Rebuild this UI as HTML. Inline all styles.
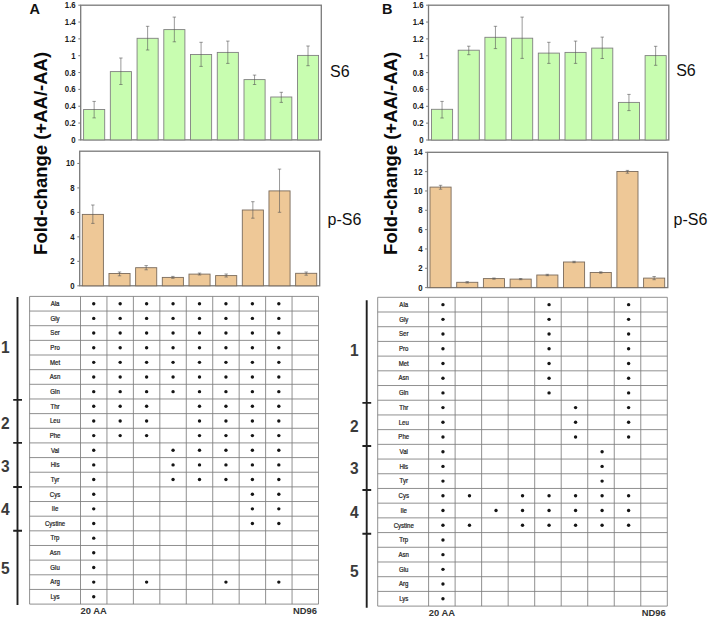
<!DOCTYPE html>
<html><head><meta charset="utf-8"><style>
html,body{margin:0;padding:0;background:#fff;width:708px;height:618px;overflow:hidden;position:relative}
</style></head><body>
<svg width="708" height="618" viewBox="0 0 708 618" style="position:absolute;left:0;top:0" font-family='"Liberation Sans", sans-serif'>
<rect width="708" height="618" fill="#fff"/>
<rect x="80.7" y="5.2" width="240.6" height="134.7" fill="none" stroke="#7a7a7a" stroke-width="1.3"/>
<rect x="83.6" y="109.5" width="21.1" height="30.4" fill="#c8fdb0" stroke="#808080" stroke-width="0.9"/>
<path d="M94.15 101.4V117.9M92.45 101.4h3.4M92.45 117.9h3.4" stroke="#555555" stroke-width="0.6" fill="none"/>
<rect x="110.33" y="71.6" width="21.1" height="68.3" fill="#c8fdb0" stroke="#808080" stroke-width="0.9"/>
<path d="M120.88 58V84.5M119.18 58h3.4M119.18 84.5h3.4" stroke="#555555" stroke-width="0.6" fill="none"/>
<rect x="137.07" y="38.3" width="21.1" height="101.6" fill="#c8fdb0" stroke="#808080" stroke-width="0.9"/>
<path d="M147.62 26.3V50M145.92 26.3h3.4M145.92 50h3.4" stroke="#555555" stroke-width="0.6" fill="none"/>
<rect x="163.8" y="29.6" width="21.1" height="110.3" fill="#c8fdb0" stroke="#808080" stroke-width="0.9"/>
<path d="M174.35 17.1V41.8M172.65 17.1h3.4M172.65 41.8h3.4" stroke="#555555" stroke-width="0.6" fill="none"/>
<rect x="190.53" y="54.5" width="21.1" height="85.4" fill="#c8fdb0" stroke="#808080" stroke-width="0.9"/>
<path d="M201.08 42.3V66.4M199.38 42.3h3.4M199.38 66.4h3.4" stroke="#555555" stroke-width="0.6" fill="none"/>
<rect x="217.27" y="52.4" width="21.1" height="87.5" fill="#c8fdb0" stroke="#808080" stroke-width="0.9"/>
<path d="M227.82 41.1V63.4M226.12 41.1h3.4M226.12 63.4h3.4" stroke="#555555" stroke-width="0.6" fill="none"/>
<rect x="244" y="79.6" width="21.1" height="60.3" fill="#c8fdb0" stroke="#808080" stroke-width="0.9"/>
<path d="M254.55 75.1V84.5M252.85 75.1h3.4M252.85 84.5h3.4" stroke="#555555" stroke-width="0.6" fill="none"/>
<rect x="270.73" y="97" width="21.1" height="42.9" fill="#c8fdb0" stroke="#808080" stroke-width="0.9"/>
<path d="M281.28 92.3V102.4M279.58 92.3h3.4M279.58 102.4h3.4" stroke="#555555" stroke-width="0.6" fill="none"/>
<rect x="297.47" y="55.4" width="21.1" height="84.5" fill="#c8fdb0" stroke="#808080" stroke-width="0.9"/>
<path d="M308.02 46V65.7M306.32 46h3.4M306.32 65.7h3.4" stroke="#555555" stroke-width="0.6" fill="none"/>
<path d="M78.3 139.9H80.7" stroke="#7a7a7a" stroke-width="1"/>
<text transform="translate(75.7 142.9) scale(0.93 1.12)" text-anchor="end" font-size="8.4" font-weight="bold" fill="#1a1a1a">0</text>
<path d="M78.3 123.06H80.7" stroke="#7a7a7a" stroke-width="1"/>
<text transform="translate(75.7 126.06) scale(0.93 1.12)" text-anchor="end" font-size="8.4" font-weight="bold" fill="#1a1a1a">0.2</text>
<path d="M78.3 106.22H80.7" stroke="#7a7a7a" stroke-width="1"/>
<text transform="translate(75.7 109.22) scale(0.93 1.12)" text-anchor="end" font-size="8.4" font-weight="bold" fill="#1a1a1a">0.4</text>
<path d="M78.3 89.39H80.7" stroke="#7a7a7a" stroke-width="1"/>
<text transform="translate(75.7 92.39) scale(0.93 1.12)" text-anchor="end" font-size="8.4" font-weight="bold" fill="#1a1a1a">0.6</text>
<path d="M78.3 72.55H80.7" stroke="#7a7a7a" stroke-width="1"/>
<text transform="translate(75.7 75.55) scale(0.93 1.12)" text-anchor="end" font-size="8.4" font-weight="bold" fill="#1a1a1a">0.8</text>
<path d="M78.3 55.71H80.7" stroke="#7a7a7a" stroke-width="1"/>
<text transform="translate(75.7 58.71) scale(0.93 1.12)" text-anchor="end" font-size="8.4" font-weight="bold" fill="#1a1a1a">1</text>
<path d="M78.3 38.88H80.7" stroke="#7a7a7a" stroke-width="1"/>
<text transform="translate(75.7 41.88) scale(0.93 1.12)" text-anchor="end" font-size="8.4" font-weight="bold" fill="#1a1a1a">1.2</text>
<path d="M78.3 22.04H80.7" stroke="#7a7a7a" stroke-width="1"/>
<text transform="translate(75.7 25.04) scale(0.93 1.12)" text-anchor="end" font-size="8.4" font-weight="bold" fill="#1a1a1a">1.4</text>
<path d="M78.3 5.2H80.7" stroke="#7a7a7a" stroke-width="1"/>
<text transform="translate(75.7 8.2) scale(0.93 1.12)" text-anchor="end" font-size="8.4" font-weight="bold" fill="#1a1a1a">1.6</text>
<rect x="79.7" y="151.2" width="240" height="134.6" fill="none" stroke="#7a7a7a" stroke-width="1.3"/>
<rect x="82.3" y="214.4" width="21.1" height="71.4" fill="#eec897" stroke="#7a6b5c" stroke-width="0.9"/>
<path d="M92.85 205V223.4M91.15 205h3.4M91.15 223.4h3.4" stroke="#555555" stroke-width="0.6" fill="none"/>
<rect x="108.97" y="273.5" width="21.1" height="12.3" fill="#eec897" stroke="#7a6b5c" stroke-width="0.9"/>
<path d="M119.52 272V275.8M117.82 272h3.4M117.82 275.8h3.4" stroke="#555555" stroke-width="0.6" fill="none"/>
<rect x="135.63" y="267.7" width="21.1" height="18.1" fill="#eec897" stroke="#7a6b5c" stroke-width="0.9"/>
<path d="M146.18 265.6V269.8M144.48 265.6h3.4M144.48 269.8h3.4" stroke="#555555" stroke-width="0.6" fill="none"/>
<rect x="162.3" y="277.4" width="21.1" height="8.4" fill="#eec897" stroke="#7a6b5c" stroke-width="0.9"/>
<path d="M172.85 276.4V278.3M171.15 276.4h3.4M171.15 278.3h3.4" stroke="#555555" stroke-width="0.6" fill="none"/>
<rect x="188.97" y="274.1" width="21.1" height="11.7" fill="#eec897" stroke="#7a6b5c" stroke-width="0.9"/>
<path d="M199.52 273.1V275M197.82 273.1h3.4M197.82 275h3.4" stroke="#555555" stroke-width="0.6" fill="none"/>
<rect x="215.63" y="275.6" width="21.1" height="10.2" fill="#eec897" stroke="#7a6b5c" stroke-width="0.9"/>
<path d="M226.18 274V277M224.48 274h3.4M224.48 277h3.4" stroke="#555555" stroke-width="0.6" fill="none"/>
<rect x="242.3" y="210" width="21.1" height="75.8" fill="#eec897" stroke="#7a6b5c" stroke-width="0.9"/>
<path d="M252.85 201.7V218.2M251.15 201.7h3.4M251.15 218.2h3.4" stroke="#555555" stroke-width="0.6" fill="none"/>
<rect x="268.97" y="190.9" width="21.1" height="94.9" fill="#eec897" stroke="#7a6b5c" stroke-width="0.9"/>
<path d="M279.52 169.1V212.3M277.82 169.1h3.4M277.82 212.3h3.4" stroke="#555555" stroke-width="0.6" fill="none"/>
<rect x="295.63" y="273.3" width="21.1" height="12.5" fill="#eec897" stroke="#7a6b5c" stroke-width="0.9"/>
<path d="M306.18 272V275.2M304.48 272h3.4M304.48 275.2h3.4" stroke="#555555" stroke-width="0.6" fill="none"/>
<path d="M77.3 285.8H79.7" stroke="#7a7a7a" stroke-width="1"/>
<text transform="translate(74.7 288.8) scale(0.93 1.12)" text-anchor="end" font-size="8.4" font-weight="bold" fill="#1a1a1a">0</text>
<path d="M77.3 261.33H79.7" stroke="#7a7a7a" stroke-width="1"/>
<text transform="translate(74.7 264.33) scale(0.93 1.12)" text-anchor="end" font-size="8.4" font-weight="bold" fill="#1a1a1a">2</text>
<path d="M77.3 236.85H79.7" stroke="#7a7a7a" stroke-width="1"/>
<text transform="translate(74.7 239.85) scale(0.93 1.12)" text-anchor="end" font-size="8.4" font-weight="bold" fill="#1a1a1a">4</text>
<path d="M77.3 212.38H79.7" stroke="#7a7a7a" stroke-width="1"/>
<text transform="translate(74.7 215.38) scale(0.93 1.12)" text-anchor="end" font-size="8.4" font-weight="bold" fill="#1a1a1a">6</text>
<path d="M77.3 187.91H79.7" stroke="#7a7a7a" stroke-width="1"/>
<text transform="translate(74.7 190.91) scale(0.93 1.12)" text-anchor="end" font-size="8.4" font-weight="bold" fill="#1a1a1a">8</text>
<path d="M77.3 163.44H79.7" stroke="#7a7a7a" stroke-width="1"/>
<text transform="translate(74.7 166.44) scale(0.93 1.12)" text-anchor="end" font-size="8.4" font-weight="bold" fill="#1a1a1a">10</text>
<rect x="428.5" y="5.2" width="240.3" height="134.8" fill="none" stroke="#7a7a7a" stroke-width="1.3"/>
<rect x="431.5" y="109.3" width="21.1" height="30.7" fill="#c8fdb0" stroke="#808080" stroke-width="0.9"/>
<path d="M442.05 101.4V118M440.35 101.4h3.4M440.35 118h3.4" stroke="#555555" stroke-width="0.6" fill="none"/>
<rect x="458.2" y="50.2" width="21.1" height="89.8" fill="#c8fdb0" stroke="#808080" stroke-width="0.9"/>
<path d="M468.75 46.2V54.7M467.05 46.2h3.4M467.05 54.7h3.4" stroke="#555555" stroke-width="0.6" fill="none"/>
<rect x="484.9" y="37.3" width="21.1" height="102.7" fill="#c8fdb0" stroke="#808080" stroke-width="0.9"/>
<path d="M495.45 26.3V48.6M493.75 26.3h3.4M493.75 48.6h3.4" stroke="#555555" stroke-width="0.6" fill="none"/>
<rect x="511.6" y="38.2" width="21.1" height="101.8" fill="#c8fdb0" stroke="#808080" stroke-width="0.9"/>
<path d="M522.15 17.1V58.4M520.45 17.1h3.4M520.45 58.4h3.4" stroke="#555555" stroke-width="0.6" fill="none"/>
<rect x="538.3" y="53.1" width="21.1" height="86.9" fill="#c8fdb0" stroke="#808080" stroke-width="0.9"/>
<path d="M548.85 42.3V63.4M547.15 42.3h3.4M547.15 63.4h3.4" stroke="#555555" stroke-width="0.6" fill="none"/>
<rect x="565" y="52.4" width="21.1" height="87.6" fill="#c8fdb0" stroke="#808080" stroke-width="0.9"/>
<path d="M575.55 41.1V63.4M573.85 41.1h3.4M573.85 63.4h3.4" stroke="#555555" stroke-width="0.6" fill="none"/>
<rect x="591.7" y="48.1" width="21.1" height="91.9" fill="#c8fdb0" stroke="#808080" stroke-width="0.9"/>
<path d="M602.25 37.1V58.5M600.55 37.1h3.4M600.55 58.5h3.4" stroke="#555555" stroke-width="0.6" fill="none"/>
<rect x="618.4" y="102.4" width="21.1" height="37.6" fill="#c8fdb0" stroke="#808080" stroke-width="0.9"/>
<path d="M628.95 94.4V110.6M627.25 94.4h3.4M627.25 110.6h3.4" stroke="#555555" stroke-width="0.6" fill="none"/>
<rect x="645.1" y="55.6" width="21.1" height="84.4" fill="#c8fdb0" stroke="#808080" stroke-width="0.9"/>
<path d="M655.65 46.3V65.3M653.95 46.3h3.4M653.95 65.3h3.4" stroke="#555555" stroke-width="0.6" fill="none"/>
<path d="M426.1 140H428.5" stroke="#7a7a7a" stroke-width="1"/>
<text transform="translate(423.5 143) scale(0.93 1.12)" text-anchor="end" font-size="8.4" font-weight="bold" fill="#1a1a1a">0</text>
<path d="M426.1 123.15H428.5" stroke="#7a7a7a" stroke-width="1"/>
<text transform="translate(423.5 126.15) scale(0.93 1.12)" text-anchor="end" font-size="8.4" font-weight="bold" fill="#1a1a1a">0.2</text>
<path d="M426.1 106.3H428.5" stroke="#7a7a7a" stroke-width="1"/>
<text transform="translate(423.5 109.3) scale(0.93 1.12)" text-anchor="end" font-size="8.4" font-weight="bold" fill="#1a1a1a">0.4</text>
<path d="M426.1 89.45H428.5" stroke="#7a7a7a" stroke-width="1"/>
<text transform="translate(423.5 92.45) scale(0.93 1.12)" text-anchor="end" font-size="8.4" font-weight="bold" fill="#1a1a1a">0.6</text>
<path d="M426.1 72.6H428.5" stroke="#7a7a7a" stroke-width="1"/>
<text transform="translate(423.5 75.6) scale(0.93 1.12)" text-anchor="end" font-size="8.4" font-weight="bold" fill="#1a1a1a">0.8</text>
<path d="M426.1 55.75H428.5" stroke="#7a7a7a" stroke-width="1"/>
<text transform="translate(423.5 58.75) scale(0.93 1.12)" text-anchor="end" font-size="8.4" font-weight="bold" fill="#1a1a1a">1</text>
<path d="M426.1 38.9H428.5" stroke="#7a7a7a" stroke-width="1"/>
<text transform="translate(423.5 41.9) scale(0.93 1.12)" text-anchor="end" font-size="8.4" font-weight="bold" fill="#1a1a1a">1.2</text>
<path d="M426.1 22.05H428.5" stroke="#7a7a7a" stroke-width="1"/>
<text transform="translate(423.5 25.05) scale(0.93 1.12)" text-anchor="end" font-size="8.4" font-weight="bold" fill="#1a1a1a">1.4</text>
<path d="M426.1 5.2H428.5" stroke="#7a7a7a" stroke-width="1"/>
<text transform="translate(423.5 8.2) scale(0.93 1.12)" text-anchor="end" font-size="8.4" font-weight="bold" fill="#1a1a1a">1.6</text>
<rect x="427.5" y="152.3" width="240.3" height="135.3" fill="none" stroke="#7a7a7a" stroke-width="1.3"/>
<rect x="430" y="187.1" width="21.1" height="100.5" fill="#eec897" stroke="#7a6b5c" stroke-width="0.9"/>
<path d="M440.55 185.3V189.2M438.85 185.3h3.4M438.85 189.2h3.4" stroke="#555555" stroke-width="0.6" fill="none"/>
<rect x="456.7" y="282.3" width="21.1" height="5.3" fill="#eec897" stroke="#7a6b5c" stroke-width="0.9"/>
<path d="M467.25 281.6V283M465.55 281.6h3.4M465.55 283h3.4" stroke="#555555" stroke-width="0.6" fill="none"/>
<rect x="483.4" y="278.6" width="21.1" height="9" fill="#eec897" stroke="#7a6b5c" stroke-width="0.9"/>
<path d="M493.95 278V279.2M492.25 278h3.4M492.25 279.2h3.4" stroke="#555555" stroke-width="0.6" fill="none"/>
<rect x="510.1" y="279.1" width="21.1" height="8.5" fill="#eec897" stroke="#7a6b5c" stroke-width="0.9"/>
<path d="M520.65 278.5V279.7M518.95 278.5h3.4M518.95 279.7h3.4" stroke="#555555" stroke-width="0.6" fill="none"/>
<rect x="536.8" y="275" width="21.1" height="12.6" fill="#eec897" stroke="#7a6b5c" stroke-width="0.9"/>
<path d="M547.35 274.3V275.7M545.65 274.3h3.4M545.65 275.7h3.4" stroke="#555555" stroke-width="0.6" fill="none"/>
<rect x="563.5" y="262" width="21.1" height="25.6" fill="#eec897" stroke="#7a6b5c" stroke-width="0.9"/>
<path d="M574.05 261.3V262.7M572.35 261.3h3.4M572.35 262.7h3.4" stroke="#555555" stroke-width="0.6" fill="none"/>
<rect x="590.2" y="272.5" width="21.1" height="15.1" fill="#eec897" stroke="#7a6b5c" stroke-width="0.9"/>
<path d="M600.75 271.8V273.2M599.05 271.8h3.4M599.05 273.2h3.4" stroke="#555555" stroke-width="0.6" fill="none"/>
<rect x="616.9" y="171.5" width="21.1" height="116.1" fill="#eec897" stroke="#7a6b5c" stroke-width="0.9"/>
<path d="M627.45 170.4V173.2M625.75 170.4h3.4M625.75 173.2h3.4" stroke="#555555" stroke-width="0.6" fill="none"/>
<rect x="643.6" y="278.1" width="21.1" height="9.5" fill="#eec897" stroke="#7a6b5c" stroke-width="0.9"/>
<path d="M654.15 276.5V279.7M652.45 276.5h3.4M652.45 279.7h3.4" stroke="#555555" stroke-width="0.6" fill="none"/>
<path d="M425.1 287.6H427.5" stroke="#7a7a7a" stroke-width="1"/>
<text transform="translate(422.5 290.6) scale(0.93 1.12)" text-anchor="end" font-size="8.4" font-weight="bold" fill="#1a1a1a">0</text>
<path d="M425.1 268.27H427.5" stroke="#7a7a7a" stroke-width="1"/>
<text transform="translate(422.5 271.27) scale(0.93 1.12)" text-anchor="end" font-size="8.4" font-weight="bold" fill="#1a1a1a">2</text>
<path d="M425.1 248.94H427.5" stroke="#7a7a7a" stroke-width="1"/>
<text transform="translate(422.5 251.94) scale(0.93 1.12)" text-anchor="end" font-size="8.4" font-weight="bold" fill="#1a1a1a">4</text>
<path d="M425.1 229.61H427.5" stroke="#7a7a7a" stroke-width="1"/>
<text transform="translate(422.5 232.61) scale(0.93 1.12)" text-anchor="end" font-size="8.4" font-weight="bold" fill="#1a1a1a">6</text>
<path d="M425.1 210.29H427.5" stroke="#7a7a7a" stroke-width="1"/>
<text transform="translate(422.5 213.29) scale(0.93 1.12)" text-anchor="end" font-size="8.4" font-weight="bold" fill="#1a1a1a">8</text>
<path d="M425.1 190.96H427.5" stroke="#7a7a7a" stroke-width="1"/>
<text transform="translate(422.5 193.96) scale(0.93 1.12)" text-anchor="end" font-size="8.4" font-weight="bold" fill="#1a1a1a">10</text>
<path d="M425.1 171.63H427.5" stroke="#7a7a7a" stroke-width="1"/>
<text transform="translate(422.5 174.63) scale(0.93 1.12)" text-anchor="end" font-size="8.4" font-weight="bold" fill="#1a1a1a">12</text>
<path d="M425.1 152.3H427.5" stroke="#7a7a7a" stroke-width="1"/>
<text transform="translate(422.5 155.3) scale(0.93 1.12)" text-anchor="end" font-size="8.4" font-weight="bold" fill="#1a1a1a">14</text>
<text x="330" y="76.5" font-size="16" fill="#111">S6</text>
<text x="327.6" y="224.7" font-size="16" fill="#111">p-S6</text>
<text x="676.2" y="76.2" font-size="16" fill="#111">S6</text>
<text x="673.6" y="224.7" font-size="16" fill="#111">p-S6</text>
<text transform="translate(29.6 13.7) scale(1 1.06)" font-size="14.5" font-weight="bold" fill="#111">A</text>
<text transform="translate(382 13.7) scale(1 1.06)" font-size="14.5" font-weight="bold" fill="#111">B</text>
<text transform="translate(46.7 254.9) rotate(-90)" font-size="18.5" font-weight="bold" fill="#0a0a0a">Fold-change (+AA/-AA)</text>
<text transform="translate(397 254.9) rotate(-90)" font-size="18.5" font-weight="bold" fill="#0a0a0a">Fold-change (+AA/-AA)</text>
<path d="M29.6 296.4H318.5M29.6 311.05H318.5M29.6 325.7H318.5M29.6 340.36H318.5M29.6 355.01H318.5M29.6 369.66H318.5M29.6 384.31H318.5M29.6 398.97H318.5M29.6 413.62H318.5M29.6 428.27H318.5M29.6 442.92H318.5M29.6 457.58H318.5M29.6 472.23H318.5M29.6 486.88H318.5M29.6 501.53H318.5M29.6 516.19H318.5M29.6 530.84H318.5M29.6 545.49H318.5M29.6 560.14H318.5M29.6 574.8H318.5M29.6 589.45H318.5M29.6 604.1H318.5M29.6 296.4V604.1M80.5 296.4V604.1M106.94 296.4V604.1M133.39 296.4V604.1M159.83 296.4V604.1M186.28 296.4V604.1M212.72 296.4V604.1M239.17 296.4V604.1M265.61 296.4V604.1M292.06 296.4V604.1M318.5 296.4V604.1" stroke="#7c7c7c" stroke-width="0.85" fill="none"/>
<text transform="translate(55.05 306.03) scale(0.92 1)" text-anchor="middle" font-size="6.6" fill="#1e1e1e" stroke="#1e1e1e" stroke-width="0.22">Ala</text>
<circle cx="93.72" cy="303.73" r="1.7" fill="#151515"/>
<circle cx="120.17" cy="303.73" r="1.7" fill="#151515"/>
<circle cx="146.61" cy="303.73" r="1.7" fill="#151515"/>
<circle cx="173.06" cy="303.73" r="1.7" fill="#151515"/>
<circle cx="199.5" cy="303.73" r="1.7" fill="#151515"/>
<circle cx="225.94" cy="303.73" r="1.7" fill="#151515"/>
<circle cx="252.39" cy="303.73" r="1.7" fill="#151515"/>
<circle cx="278.83" cy="303.73" r="1.7" fill="#151515"/>
<text transform="translate(55.05 320.68) scale(0.92 1)" text-anchor="middle" font-size="6.6" fill="#1e1e1e" stroke="#1e1e1e" stroke-width="0.22">Gly</text>
<circle cx="93.72" cy="318.38" r="1.7" fill="#151515"/>
<circle cx="120.17" cy="318.38" r="1.7" fill="#151515"/>
<circle cx="146.61" cy="318.38" r="1.7" fill="#151515"/>
<circle cx="173.06" cy="318.38" r="1.7" fill="#151515"/>
<circle cx="199.5" cy="318.38" r="1.7" fill="#151515"/>
<circle cx="225.94" cy="318.38" r="1.7" fill="#151515"/>
<circle cx="252.39" cy="318.38" r="1.7" fill="#151515"/>
<circle cx="278.83" cy="318.38" r="1.7" fill="#151515"/>
<text transform="translate(55.05 335.33) scale(0.92 1)" text-anchor="middle" font-size="6.6" fill="#1e1e1e" stroke="#1e1e1e" stroke-width="0.22">Ser</text>
<circle cx="93.72" cy="333.03" r="1.7" fill="#151515"/>
<circle cx="120.17" cy="333.03" r="1.7" fill="#151515"/>
<circle cx="146.61" cy="333.03" r="1.7" fill="#151515"/>
<circle cx="173.06" cy="333.03" r="1.7" fill="#151515"/>
<circle cx="199.5" cy="333.03" r="1.7" fill="#151515"/>
<circle cx="225.94" cy="333.03" r="1.7" fill="#151515"/>
<circle cx="252.39" cy="333.03" r="1.7" fill="#151515"/>
<circle cx="278.83" cy="333.03" r="1.7" fill="#151515"/>
<text transform="translate(55.05 349.98) scale(0.92 1)" text-anchor="middle" font-size="6.6" fill="#1e1e1e" stroke="#1e1e1e" stroke-width="0.22">Pro</text>
<circle cx="93.72" cy="347.68" r="1.7" fill="#151515"/>
<circle cx="120.17" cy="347.68" r="1.7" fill="#151515"/>
<circle cx="146.61" cy="347.68" r="1.7" fill="#151515"/>
<circle cx="173.06" cy="347.68" r="1.7" fill="#151515"/>
<circle cx="199.5" cy="347.68" r="1.7" fill="#151515"/>
<circle cx="225.94" cy="347.68" r="1.7" fill="#151515"/>
<circle cx="252.39" cy="347.68" r="1.7" fill="#151515"/>
<circle cx="278.83" cy="347.68" r="1.7" fill="#151515"/>
<text transform="translate(55.05 364.64) scale(0.92 1)" text-anchor="middle" font-size="6.6" fill="#1e1e1e" stroke="#1e1e1e" stroke-width="0.22">Met</text>
<circle cx="93.72" cy="362.34" r="1.7" fill="#151515"/>
<circle cx="120.17" cy="362.34" r="1.7" fill="#151515"/>
<circle cx="146.61" cy="362.34" r="1.7" fill="#151515"/>
<circle cx="173.06" cy="362.34" r="1.7" fill="#151515"/>
<circle cx="199.5" cy="362.34" r="1.7" fill="#151515"/>
<circle cx="225.94" cy="362.34" r="1.7" fill="#151515"/>
<circle cx="252.39" cy="362.34" r="1.7" fill="#151515"/>
<circle cx="278.83" cy="362.34" r="1.7" fill="#151515"/>
<text transform="translate(55.05 379.29) scale(0.92 1)" text-anchor="middle" font-size="6.6" fill="#1e1e1e" stroke="#1e1e1e" stroke-width="0.22">Asn</text>
<circle cx="93.72" cy="376.99" r="1.7" fill="#151515"/>
<circle cx="120.17" cy="376.99" r="1.7" fill="#151515"/>
<circle cx="146.61" cy="376.99" r="1.7" fill="#151515"/>
<circle cx="173.06" cy="376.99" r="1.7" fill="#151515"/>
<circle cx="199.5" cy="376.99" r="1.7" fill="#151515"/>
<circle cx="225.94" cy="376.99" r="1.7" fill="#151515"/>
<circle cx="252.39" cy="376.99" r="1.7" fill="#151515"/>
<circle cx="278.83" cy="376.99" r="1.7" fill="#151515"/>
<text transform="translate(55.05 393.94) scale(0.92 1)" text-anchor="middle" font-size="6.6" fill="#1e1e1e" stroke="#1e1e1e" stroke-width="0.22">Gln</text>
<circle cx="93.72" cy="391.64" r="1.7" fill="#151515"/>
<circle cx="120.17" cy="391.64" r="1.7" fill="#151515"/>
<circle cx="146.61" cy="391.64" r="1.7" fill="#151515"/>
<circle cx="173.06" cy="391.64" r="1.7" fill="#151515"/>
<circle cx="199.5" cy="391.64" r="1.7" fill="#151515"/>
<circle cx="225.94" cy="391.64" r="1.7" fill="#151515"/>
<circle cx="252.39" cy="391.64" r="1.7" fill="#151515"/>
<circle cx="278.83" cy="391.64" r="1.7" fill="#151515"/>
<text transform="translate(55.05 408.59) scale(0.92 1)" text-anchor="middle" font-size="6.6" fill="#1e1e1e" stroke="#1e1e1e" stroke-width="0.22">Thr</text>
<circle cx="93.72" cy="406.29" r="1.7" fill="#151515"/>
<circle cx="120.17" cy="406.29" r="1.7" fill="#151515"/>
<circle cx="146.61" cy="406.29" r="1.7" fill="#151515"/>
<circle cx="199.5" cy="406.29" r="1.7" fill="#151515"/>
<circle cx="225.94" cy="406.29" r="1.7" fill="#151515"/>
<circle cx="252.39" cy="406.29" r="1.7" fill="#151515"/>
<circle cx="278.83" cy="406.29" r="1.7" fill="#151515"/>
<text transform="translate(55.05 423.25) scale(0.92 1)" text-anchor="middle" font-size="6.6" fill="#1e1e1e" stroke="#1e1e1e" stroke-width="0.22">Leu</text>
<circle cx="93.72" cy="420.95" r="1.7" fill="#151515"/>
<circle cx="120.17" cy="420.95" r="1.7" fill="#151515"/>
<circle cx="146.61" cy="420.95" r="1.7" fill="#151515"/>
<circle cx="199.5" cy="420.95" r="1.7" fill="#151515"/>
<circle cx="225.94" cy="420.95" r="1.7" fill="#151515"/>
<circle cx="252.39" cy="420.95" r="1.7" fill="#151515"/>
<circle cx="278.83" cy="420.95" r="1.7" fill="#151515"/>
<text transform="translate(55.05 437.9) scale(0.92 1)" text-anchor="middle" font-size="6.6" fill="#1e1e1e" stroke="#1e1e1e" stroke-width="0.22">Phe</text>
<circle cx="93.72" cy="435.6" r="1.7" fill="#151515"/>
<circle cx="120.17" cy="435.6" r="1.7" fill="#151515"/>
<circle cx="146.61" cy="435.6" r="1.7" fill="#151515"/>
<circle cx="199.5" cy="435.6" r="1.7" fill="#151515"/>
<circle cx="225.94" cy="435.6" r="1.7" fill="#151515"/>
<circle cx="252.39" cy="435.6" r="1.7" fill="#151515"/>
<circle cx="278.83" cy="435.6" r="1.7" fill="#151515"/>
<text transform="translate(55.05 452.55) scale(0.92 1)" text-anchor="middle" font-size="6.6" fill="#1e1e1e" stroke="#1e1e1e" stroke-width="0.22">Val</text>
<circle cx="93.72" cy="450.25" r="1.7" fill="#151515"/>
<circle cx="173.06" cy="450.25" r="1.7" fill="#151515"/>
<circle cx="199.5" cy="450.25" r="1.7" fill="#151515"/>
<circle cx="225.94" cy="450.25" r="1.7" fill="#151515"/>
<circle cx="252.39" cy="450.25" r="1.7" fill="#151515"/>
<circle cx="278.83" cy="450.25" r="1.7" fill="#151515"/>
<text transform="translate(55.05 467.2) scale(0.92 1)" text-anchor="middle" font-size="6.6" fill="#1e1e1e" stroke="#1e1e1e" stroke-width="0.22">His</text>
<circle cx="93.72" cy="464.9" r="1.7" fill="#151515"/>
<circle cx="173.06" cy="464.9" r="1.7" fill="#151515"/>
<circle cx="199.5" cy="464.9" r="1.7" fill="#151515"/>
<circle cx="225.94" cy="464.9" r="1.7" fill="#151515"/>
<circle cx="252.39" cy="464.9" r="1.7" fill="#151515"/>
<circle cx="278.83" cy="464.9" r="1.7" fill="#151515"/>
<text transform="translate(55.05 481.85) scale(0.92 1)" text-anchor="middle" font-size="6.6" fill="#1e1e1e" stroke="#1e1e1e" stroke-width="0.22">Tyr</text>
<circle cx="93.72" cy="479.55" r="1.7" fill="#151515"/>
<circle cx="173.06" cy="479.55" r="1.7" fill="#151515"/>
<circle cx="199.5" cy="479.55" r="1.7" fill="#151515"/>
<circle cx="225.94" cy="479.55" r="1.7" fill="#151515"/>
<circle cx="252.39" cy="479.55" r="1.7" fill="#151515"/>
<circle cx="278.83" cy="479.55" r="1.7" fill="#151515"/>
<text transform="translate(55.05 496.51) scale(0.92 1)" text-anchor="middle" font-size="6.6" fill="#1e1e1e" stroke="#1e1e1e" stroke-width="0.22">Cys</text>
<circle cx="93.72" cy="494.21" r="1.7" fill="#151515"/>
<circle cx="252.39" cy="494.21" r="1.7" fill="#151515"/>
<circle cx="278.83" cy="494.21" r="1.7" fill="#151515"/>
<text transform="translate(55.05 511.16) scale(0.92 1)" text-anchor="middle" font-size="6.6" fill="#1e1e1e" stroke="#1e1e1e" stroke-width="0.22">Ile</text>
<circle cx="93.72" cy="508.86" r="1.7" fill="#151515"/>
<circle cx="252.39" cy="508.86" r="1.7" fill="#151515"/>
<circle cx="278.83" cy="508.86" r="1.7" fill="#151515"/>
<text transform="translate(55.05 525.81) scale(0.92 1)" text-anchor="middle" font-size="6.6" fill="#1e1e1e" stroke="#1e1e1e" stroke-width="0.22">Cystine</text>
<circle cx="93.72" cy="523.51" r="1.7" fill="#151515"/>
<circle cx="252.39" cy="523.51" r="1.7" fill="#151515"/>
<circle cx="278.83" cy="523.51" r="1.7" fill="#151515"/>
<text transform="translate(55.05 540.46) scale(0.92 1)" text-anchor="middle" font-size="6.6" fill="#1e1e1e" stroke="#1e1e1e" stroke-width="0.22">Trp</text>
<circle cx="93.72" cy="538.16" r="1.7" fill="#151515"/>
<text transform="translate(55.05 555.12) scale(0.92 1)" text-anchor="middle" font-size="6.6" fill="#1e1e1e" stroke="#1e1e1e" stroke-width="0.22">Asn</text>
<circle cx="93.72" cy="552.82" r="1.7" fill="#151515"/>
<text transform="translate(55.05 569.77) scale(0.92 1)" text-anchor="middle" font-size="6.6" fill="#1e1e1e" stroke="#1e1e1e" stroke-width="0.22">Glu</text>
<circle cx="93.72" cy="567.47" r="1.7" fill="#151515"/>
<text transform="translate(55.05 584.42) scale(0.92 1)" text-anchor="middle" font-size="6.6" fill="#1e1e1e" stroke="#1e1e1e" stroke-width="0.22">Arg</text>
<circle cx="93.72" cy="582.12" r="1.7" fill="#151515"/>
<circle cx="146.61" cy="582.12" r="1.7" fill="#151515"/>
<circle cx="225.94" cy="582.12" r="1.7" fill="#151515"/>
<circle cx="278.83" cy="582.12" r="1.7" fill="#151515"/>
<text transform="translate(55.05 599.07) scale(0.92 1)" text-anchor="middle" font-size="6.6" fill="#1e1e1e" stroke="#1e1e1e" stroke-width="0.22">Lys</text>
<circle cx="93.72" cy="596.77" r="1.7" fill="#151515"/>
<path d="M17.5 297V605M13.2 399.9h8.8M13.2 442.9h8.8M13.2 487h8.8M13.2 530.7h8.8" stroke="#202020" stroke-width="1.9" fill="none"/>
<text transform="translate(5.3 353) scale(1 1.08)" text-anchor="middle" font-size="15.5" font-weight="bold" fill="#3a3a3a">1</text>
<text transform="translate(5.3 428.9) scale(1 1.08)" text-anchor="middle" font-size="15.5" font-weight="bold" fill="#3a3a3a">2</text>
<text transform="translate(5.3 471.6) scale(1 1.08)" text-anchor="middle" font-size="15.5" font-weight="bold" fill="#3a3a3a">3</text>
<text transform="translate(5.3 514.5) scale(1 1.08)" text-anchor="middle" font-size="15.5" font-weight="bold" fill="#3a3a3a">4</text>
<text transform="translate(5.3 574.3) scale(1 1.08)" text-anchor="middle" font-size="15.5" font-weight="bold" fill="#3a3a3a">5</text>
<text x="93.72" y="614" text-anchor="middle" font-size="9.4" font-weight="bold" fill="#333">20 AA</text>
<text x="317" y="614" text-anchor="end" font-size="9.4" font-weight="bold" fill="#333">ND96</text>
<path d="M377.7 297.3H667.3M377.7 312H667.3M377.7 326.71H667.3M377.7 341.41H667.3M377.7 356.12H667.3M377.7 370.82H667.3M377.7 385.53H667.3M377.7 400.23H667.3M377.7 414.94H667.3M377.7 429.64H667.3M377.7 444.35H667.3M377.7 459.05H667.3M377.7 473.76H667.3M377.7 488.46H667.3M377.7 503.17H667.3M377.7 517.87H667.3M377.7 532.58H667.3M377.7 547.28H667.3M377.7 561.99H667.3M377.7 576.69H667.3M377.7 591.4H667.3M377.7 606.1H667.3M377.7 297.3V606.1M428.6 297.3V606.1M455.12 297.3V606.1M481.64 297.3V606.1M508.17 297.3V606.1M534.69 297.3V606.1M561.21 297.3V606.1M587.73 297.3V606.1M614.26 297.3V606.1M640.78 297.3V606.1M667.3 297.3V606.1" stroke="#7c7c7c" stroke-width="0.85" fill="none"/>
<text transform="translate(403.75 306.95) scale(0.92 1)" text-anchor="middle" font-size="6.6" fill="#1e1e1e" stroke="#1e1e1e" stroke-width="0.22">Ala</text>
<circle cx="442.96" cy="304.65" r="1.7" fill="#151515"/>
<circle cx="549.05" cy="304.65" r="1.7" fill="#151515"/>
<circle cx="628.62" cy="304.65" r="1.7" fill="#151515"/>
<text transform="translate(403.75 321.66) scale(0.92 1)" text-anchor="middle" font-size="6.6" fill="#1e1e1e" stroke="#1e1e1e" stroke-width="0.22">Gly</text>
<circle cx="442.96" cy="319.36" r="1.7" fill="#151515"/>
<circle cx="549.05" cy="319.36" r="1.7" fill="#151515"/>
<circle cx="628.62" cy="319.36" r="1.7" fill="#151515"/>
<text transform="translate(403.75 336.36) scale(0.92 1)" text-anchor="middle" font-size="6.6" fill="#1e1e1e" stroke="#1e1e1e" stroke-width="0.22">Ser</text>
<circle cx="442.96" cy="334.06" r="1.7" fill="#151515"/>
<circle cx="549.05" cy="334.06" r="1.7" fill="#151515"/>
<circle cx="628.62" cy="334.06" r="1.7" fill="#151515"/>
<text transform="translate(403.75 351.07) scale(0.92 1)" text-anchor="middle" font-size="6.6" fill="#1e1e1e" stroke="#1e1e1e" stroke-width="0.22">Pro</text>
<circle cx="442.96" cy="348.77" r="1.7" fill="#151515"/>
<circle cx="549.05" cy="348.77" r="1.7" fill="#151515"/>
<circle cx="628.62" cy="348.77" r="1.7" fill="#151515"/>
<text transform="translate(403.75 365.77) scale(0.92 1)" text-anchor="middle" font-size="6.6" fill="#1e1e1e" stroke="#1e1e1e" stroke-width="0.22">Met</text>
<circle cx="442.96" cy="363.47" r="1.7" fill="#151515"/>
<circle cx="549.05" cy="363.47" r="1.7" fill="#151515"/>
<circle cx="628.62" cy="363.47" r="1.7" fill="#151515"/>
<text transform="translate(403.75 380.48) scale(0.92 1)" text-anchor="middle" font-size="6.6" fill="#1e1e1e" stroke="#1e1e1e" stroke-width="0.22">Asn</text>
<circle cx="442.96" cy="378.18" r="1.7" fill="#151515"/>
<circle cx="549.05" cy="378.18" r="1.7" fill="#151515"/>
<circle cx="628.62" cy="378.18" r="1.7" fill="#151515"/>
<text transform="translate(403.75 395.18) scale(0.92 1)" text-anchor="middle" font-size="6.6" fill="#1e1e1e" stroke="#1e1e1e" stroke-width="0.22">Gln</text>
<circle cx="442.96" cy="392.88" r="1.7" fill="#151515"/>
<circle cx="549.05" cy="392.88" r="1.7" fill="#151515"/>
<circle cx="628.62" cy="392.88" r="1.7" fill="#151515"/>
<text transform="translate(403.75 409.89) scale(0.92 1)" text-anchor="middle" font-size="6.6" fill="#1e1e1e" stroke="#1e1e1e" stroke-width="0.22">Thr</text>
<circle cx="442.96" cy="407.59" r="1.7" fill="#151515"/>
<circle cx="575.57" cy="407.59" r="1.7" fill="#151515"/>
<circle cx="628.62" cy="407.59" r="1.7" fill="#151515"/>
<text transform="translate(403.75 424.59) scale(0.92 1)" text-anchor="middle" font-size="6.6" fill="#1e1e1e" stroke="#1e1e1e" stroke-width="0.22">Leu</text>
<circle cx="442.96" cy="422.29" r="1.7" fill="#151515"/>
<circle cx="575.57" cy="422.29" r="1.7" fill="#151515"/>
<circle cx="628.62" cy="422.29" r="1.7" fill="#151515"/>
<text transform="translate(403.75 439.3) scale(0.92 1)" text-anchor="middle" font-size="6.6" fill="#1e1e1e" stroke="#1e1e1e" stroke-width="0.22">Phe</text>
<circle cx="442.96" cy="437" r="1.7" fill="#151515"/>
<circle cx="575.57" cy="437" r="1.7" fill="#151515"/>
<circle cx="628.62" cy="437" r="1.7" fill="#151515"/>
<text transform="translate(403.75 454) scale(0.92 1)" text-anchor="middle" font-size="6.6" fill="#1e1e1e" stroke="#1e1e1e" stroke-width="0.22">Val</text>
<circle cx="442.96" cy="451.7" r="1.7" fill="#151515"/>
<circle cx="602.09" cy="451.7" r="1.7" fill="#151515"/>
<text transform="translate(403.75 468.7) scale(0.92 1)" text-anchor="middle" font-size="6.6" fill="#1e1e1e" stroke="#1e1e1e" stroke-width="0.22">His</text>
<circle cx="442.96" cy="466.4" r="1.7" fill="#151515"/>
<circle cx="602.09" cy="466.4" r="1.7" fill="#151515"/>
<text transform="translate(403.75 483.41) scale(0.92 1)" text-anchor="middle" font-size="6.6" fill="#1e1e1e" stroke="#1e1e1e" stroke-width="0.22">Tyr</text>
<circle cx="442.96" cy="481.11" r="1.7" fill="#151515"/>
<circle cx="602.09" cy="481.11" r="1.7" fill="#151515"/>
<text transform="translate(403.75 498.11) scale(0.92 1)" text-anchor="middle" font-size="6.6" fill="#1e1e1e" stroke="#1e1e1e" stroke-width="0.22">Cys</text>
<circle cx="442.96" cy="495.81" r="1.7" fill="#151515"/>
<circle cx="469.48" cy="495.81" r="1.7" fill="#151515"/>
<circle cx="522.53" cy="495.81" r="1.7" fill="#151515"/>
<circle cx="549.05" cy="495.81" r="1.7" fill="#151515"/>
<circle cx="575.57" cy="495.81" r="1.7" fill="#151515"/>
<circle cx="602.09" cy="495.81" r="1.7" fill="#151515"/>
<circle cx="628.62" cy="495.81" r="1.7" fill="#151515"/>
<text transform="translate(403.75 512.82) scale(0.92 1)" text-anchor="middle" font-size="6.6" fill="#1e1e1e" stroke="#1e1e1e" stroke-width="0.22">Ile</text>
<circle cx="442.96" cy="510.52" r="1.7" fill="#151515"/>
<circle cx="496.01" cy="510.52" r="1.7" fill="#151515"/>
<circle cx="522.53" cy="510.52" r="1.7" fill="#151515"/>
<circle cx="549.05" cy="510.52" r="1.7" fill="#151515"/>
<circle cx="575.57" cy="510.52" r="1.7" fill="#151515"/>
<circle cx="602.09" cy="510.52" r="1.7" fill="#151515"/>
<circle cx="628.62" cy="510.52" r="1.7" fill="#151515"/>
<text transform="translate(403.75 527.52) scale(0.92 1)" text-anchor="middle" font-size="6.6" fill="#1e1e1e" stroke="#1e1e1e" stroke-width="0.22">Cystine</text>
<circle cx="442.96" cy="525.22" r="1.7" fill="#151515"/>
<circle cx="469.48" cy="525.22" r="1.7" fill="#151515"/>
<circle cx="522.53" cy="525.22" r="1.7" fill="#151515"/>
<circle cx="549.05" cy="525.22" r="1.7" fill="#151515"/>
<circle cx="575.57" cy="525.22" r="1.7" fill="#151515"/>
<circle cx="602.09" cy="525.22" r="1.7" fill="#151515"/>
<circle cx="628.62" cy="525.22" r="1.7" fill="#151515"/>
<text transform="translate(403.75 542.23) scale(0.92 1)" text-anchor="middle" font-size="6.6" fill="#1e1e1e" stroke="#1e1e1e" stroke-width="0.22">Trp</text>
<circle cx="442.96" cy="539.93" r="1.7" fill="#151515"/>
<text transform="translate(403.75 556.93) scale(0.92 1)" text-anchor="middle" font-size="6.6" fill="#1e1e1e" stroke="#1e1e1e" stroke-width="0.22">Asn</text>
<circle cx="442.96" cy="554.63" r="1.7" fill="#151515"/>
<text transform="translate(403.75 571.64) scale(0.92 1)" text-anchor="middle" font-size="6.6" fill="#1e1e1e" stroke="#1e1e1e" stroke-width="0.22">Glu</text>
<circle cx="442.96" cy="569.34" r="1.7" fill="#151515"/>
<text transform="translate(403.75 586.34) scale(0.92 1)" text-anchor="middle" font-size="6.6" fill="#1e1e1e" stroke="#1e1e1e" stroke-width="0.22">Arg</text>
<circle cx="442.96" cy="584.04" r="1.7" fill="#151515"/>
<text transform="translate(403.75 601.05) scale(0.92 1)" text-anchor="middle" font-size="6.6" fill="#1e1e1e" stroke="#1e1e1e" stroke-width="0.22">Lys</text>
<circle cx="442.96" cy="598.75" r="1.7" fill="#151515"/>
<path d="M366.7 300.3V607.8M362.4 402.9h8.8M362.4 446h8.8M362.4 490h8.8M362.4 533.7h8.8" stroke="#202020" stroke-width="1.9" fill="none"/>
<text transform="translate(354.2 355.8) scale(1 1.08)" text-anchor="middle" font-size="15.5" font-weight="bold" fill="#3a3a3a">1</text>
<text transform="translate(354.2 431.5) scale(1 1.08)" text-anchor="middle" font-size="15.5" font-weight="bold" fill="#3a3a3a">2</text>
<text transform="translate(354.2 473.6) scale(1 1.08)" text-anchor="middle" font-size="15.5" font-weight="bold" fill="#3a3a3a">3</text>
<text transform="translate(354.2 517.5) scale(1 1.08)" text-anchor="middle" font-size="15.5" font-weight="bold" fill="#3a3a3a">4</text>
<text transform="translate(354.2 576.8) scale(1 1.08)" text-anchor="middle" font-size="15.5" font-weight="bold" fill="#3a3a3a">5</text>
<text x="441.86" y="616.4" text-anchor="middle" font-size="9.4" font-weight="bold" fill="#333">20 AA</text>
<text x="665.8" y="616.4" text-anchor="end" font-size="9.4" font-weight="bold" fill="#333">ND96</text>
</svg>
</body></html>
